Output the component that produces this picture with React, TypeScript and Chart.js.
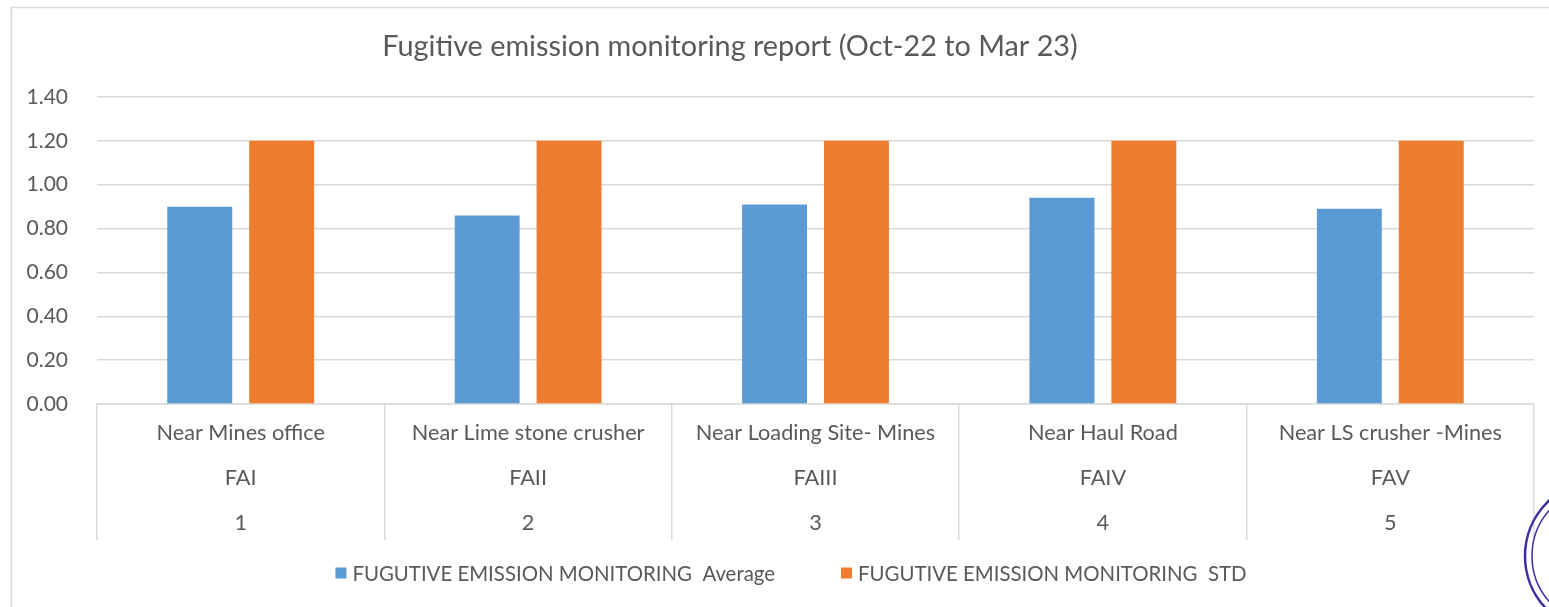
import React, { useEffect, useRef } from "react";
import { Chart, registerables } from "chart.js";

Chart.register(...registerables);

// ---- data ----
const chartTitle = "Fugitive emission monitoring report (Oct-22 to Mar 23)";
const locations = [
  "Near Mines office",
  "Near Lime stone crusher",
  "Near Loading Site- Mines",
  "Near Haul Road",
  "Near LS crusher -Mines",
];
const stationCodes = ["FAI", "FAII", "FAIII", "FAIV", "FAV"];
const serialNumbers = ["1", "2", "3", "4", "5"];
const averageValues = [0.9, 0.86, 0.91, 0.94, 0.89];
const stdValues = [1.2, 1.2, 1.2, 1.2, 1.2];
const seriesNames = [
  "FUGUTIVE EMISSION MONITORING  Average",
  "FUGUTIVE EMISSION MONITORING  STD",
];
const seriesColors = ["#5B9BD5", "#ED7D31"];
const yMin = 0;
const yMax = 1.4;
const yStep = 0.2;

// ---- styles ----
const FONT = "Lato, 'Open Sans', sans-serif";
const TEXT = "#595959";
const GRID = "#d9d9d9";
const W = 1549;
const H = 607;

const framePlugin = {
  id: "frame",
  beforeDraw(chart: any) {
    const { ctx } = chart;
    ctx.save();
    ctx.fillStyle = "#ffffff";
    ctx.fillRect(0, 0, chart.width, chart.height);
    ctx.strokeStyle = GRID;
    ctx.lineWidth = 1.5;
    ctx.beginPath();
    ctx.moveTo(11.5, chart.height + 5);
    ctx.lineTo(11.5, 7.5);
    ctx.lineTo(chart.width + 5, 7.5);
    ctx.stroke();
    ctx.restore();
  },
};

const titlePlugin = {
  id: "customTitle",
  afterDraw(chart: any) {
    const { ctx } = chart;
    ctx.save();
    ctx.font = `28.8px ${FONT}`;
    ctx.fillStyle = TEXT;
    ctx.textAlign = "center";
    ctx.textBaseline = "alphabetic";
    ctx.fillText(chartTitle, 730, 56);
    ctx.restore();
  },
};

const legendPlugin = {
  id: "customLegend",
  afterDraw(chart: any) {
    const { ctx } = chart;
    ctx.save();
    ctx.font = `20.4px ${FONT}`;
    const box = 11;
    const gapBoxText = 6;
    const gapItems = 66;
    const widths = seriesNames.map((n) => ctx.measureText(n).width);
    const total =
      widths.reduce((a, b) => a + b, 0) +
      seriesNames.length * (box + gapBoxText) +
      gapItems * (seriesNames.length - 1);
    let x = 791 - total / 2;
    const cy = 573;
    seriesNames.forEach((name, i) => {
      ctx.fillStyle = seriesColors[i];
      ctx.fillRect(x, cy - box / 2, box, box);
      x += box + gapBoxText;
      ctx.fillStyle = TEXT;
      ctx.textAlign = "left";
      ctx.textBaseline = "middle";
      ctx.fillText(name, x, cy + 1);
      x += widths[i] + gapItems;
    });
    ctx.restore();
  },
};

const stampPlugin = {
  id: "stamp",
  afterDraw(chart: any) {
    const { ctx } = chart;
    ctx.save();
    ctx.strokeStyle = "#3a2fa0";
    ctx.lineWidth = 2.5;
    ctx.beginPath();
    ctx.arc(1601, 556, 76, 0, Math.PI * 2);
    ctx.stroke();
    ctx.lineWidth = 1.5;
    ctx.beginPath();
    ctx.arc(1601, 556, 69, 0, Math.PI * 2);
    ctx.stroke();
    ctx.restore();
  },
};

export default function App() {
  const ref = useRef<HTMLCanvasElement | null>(null);

  useEffect(() => {
    if (!ref.current) return;
    const labels = locations.map((loc, i) => [
      loc,
      stationCodes[i],
      serialNumbers[i],
    ]);
    const chart = new Chart(ref.current, {
      type: "bar",
      data: {
        labels,
        datasets: [
          {
            label: seriesNames[0],
            data: averageValues,
            backgroundColor: seriesColors[0],
            categoryPercentage: 0.57,
            barPercentage: 0.793,
          },
          {
            label: seriesNames[1],
            data: stdValues,
            backgroundColor: seriesColors[1],
            categoryPercentage: 0.57,
            barPercentage: 0.793,
          },
        ],
      },
      options: {
        responsive: false,
        maintainAspectRatio: false,
        devicePixelRatio: 1,
        animation: false,
        layout: { padding: { top: 97, right: 15, bottom: 67, left: 0 } },
        plugins: {
          legend: { display: false },
          title: { display: false },
          tooltip: { enabled: false },
        },
        scales: {
          x: {
            type: "category",
            offset: true,
            grid: {
              display: true,
              drawOnChartArea: false,
              drawTicks: true,
              tickLength: 136,
              offset: true,
              color: GRID,
              lineWidth: 1.5,
            },
            border: { display: true, color: GRID, width: 1.5 },
            ticks: {
              autoSkip: false,
              maxRotation: 0,
              minRotation: 0,
              padding: -129.5,
              color: TEXT,
              font: { family: FONT, size: 21.7, lineHeight: "45px" },
            },
            afterFit: (s: any) => {
              s.height = 136;
            },
          },
          y: {
            min: yMin,
            max: yMax,
            ticks: {
              stepSize: yStep,
              padding: 29,
              color: TEXT,
              font: { family: FONT, size: 21 },
              callback: (v: any) => Number(v).toFixed(2),
            },
            grid: { color: GRID, drawTicks: false, lineWidth: 1.5 },
            border: { display: false },
            afterFit: (s: any) => {
              s.width = 97;
            },
          },
        },
      },
      plugins: [framePlugin, titlePlugin, legendPlugin, stampPlugin],
    });
    return () => chart.destroy();
  }, []);

  return (
    <div style={{ position: "fixed", left: 0, top: 0, width: W, height: H }}>
      <canvas ref={ref} width={W} height={H} style={{ width: W, height: H }} />
    </div>
  );
}
